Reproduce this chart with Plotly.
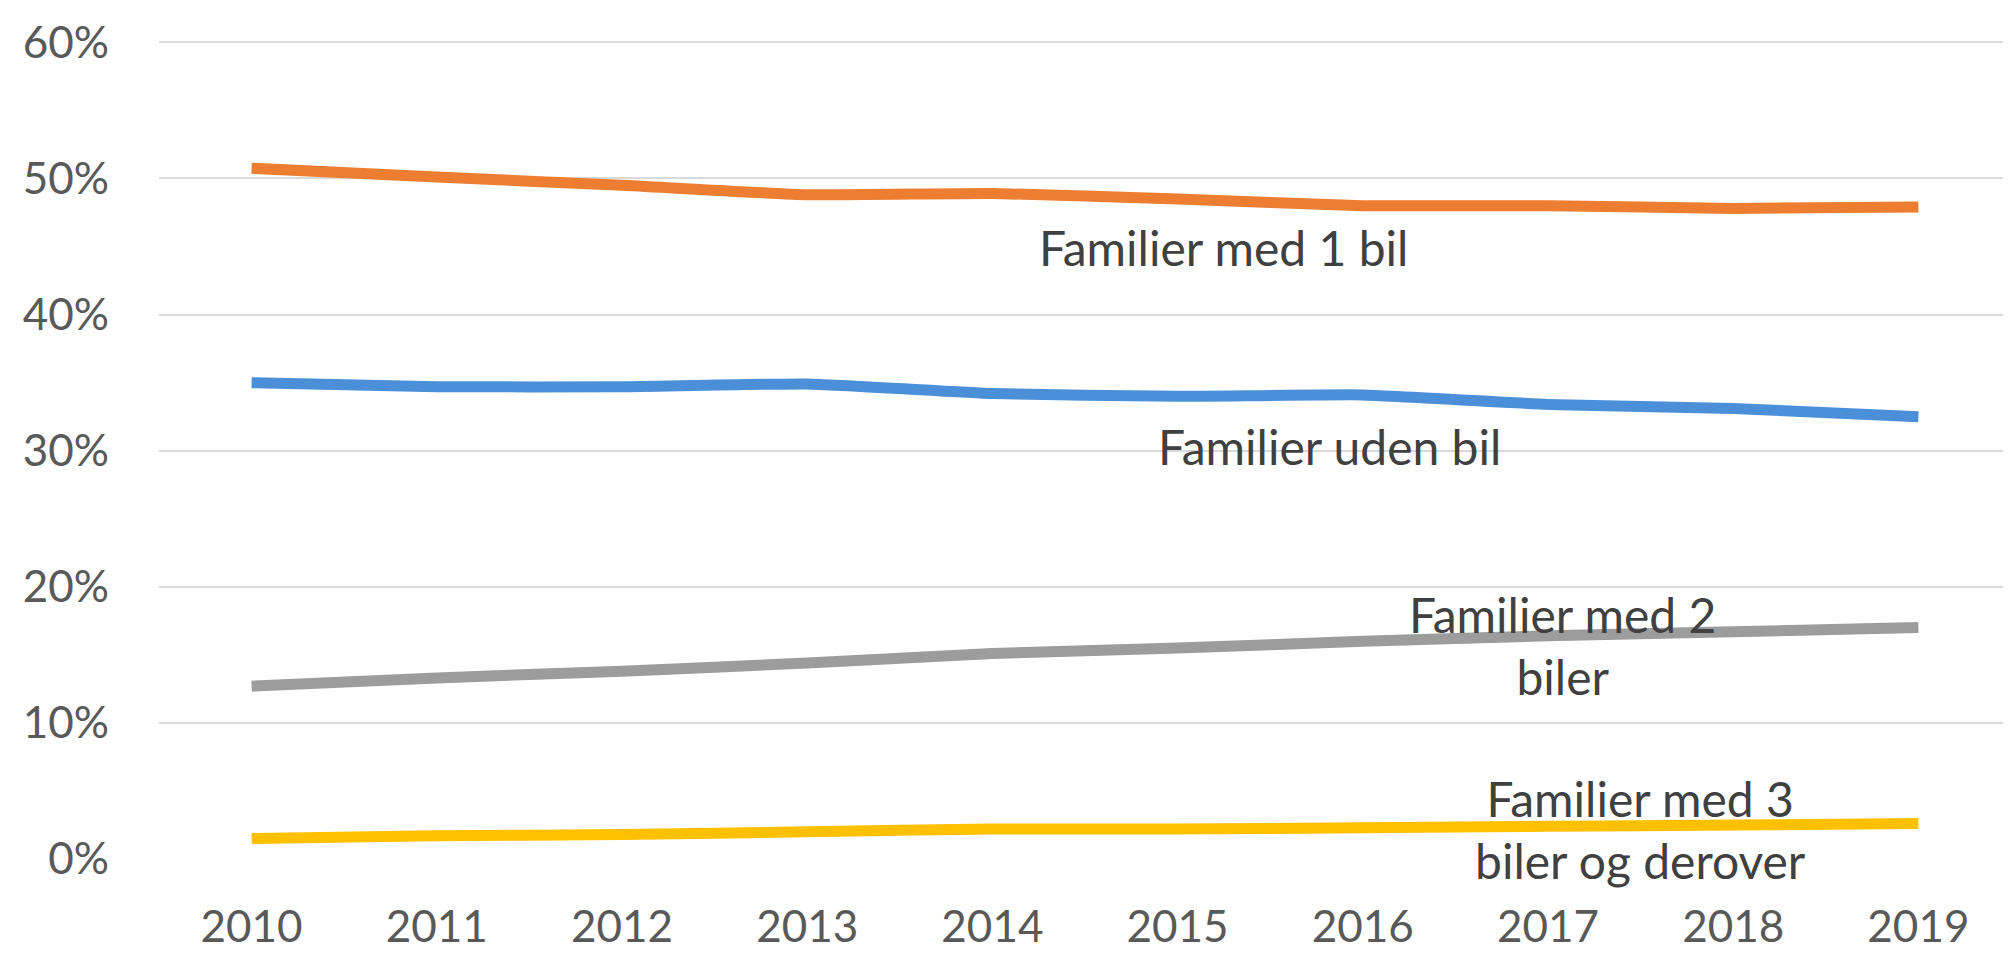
import plotly.graph_objects as go

years = [2010, 2011, 2012, 2013, 2014, 2015, 2016, 2017, 2018, 2019]
med_1_bil = [50.75, 50.1, 49.5, 48.8, 48.9, 48.5, 48.0, 48.0, 47.8, 47.9]
uden_bil = [35.0, 34.7, 34.7, 34.9, 34.2, 34.0, 34.1, 33.4, 33.1, 32.5]
med_2_biler = [12.7, 13.3, 13.8, 14.4, 15.1, 15.5, 16.0, 16.4, 16.7, 17.0]
med_3_biler = [1.5, 1.7, 1.8, 2.0, 2.2, 2.2, 2.3, 2.4, 2.5, 2.6]

y_ticks = [0, 10, 20, 30, 40, 50, 60]
y_tick_labels = ["0%", "10%", "20%", "30%", "40%", "50%", "60%"]

series = [
    ("Familier med 1 bil", med_1_bil, "#ED7D31"),
    ("Familier uden bil", uden_bil, "#4A8FD8"),
    ("Familier med 2 biler", med_2_biler, "#9C9C9C"),
    ("Familier med 3 biler og derover", med_3_biler, "#FFC000"),
]

labels = [
    ("Familier med 1 bil", 2015.25, 44.9),
    ("Familier uden bil", 2015.82, 30.3),
    ("Familier med 2<br>biler", 2017.08, 15.7),
    ("Familier med 3<br>biler og derover", 2017.5, 2.2),
]

fig = go.Figure()
for name, vals, col in series:
    fig.add_trace(go.Scatter(x=years, y=vals, mode="lines", name=name,
                             line=dict(color=col, width=11, shape="spline", smoothing=0.4)))

for text, x, y in labels:
    fig.add_annotation(x=x, y=y, text=text, showarrow=False,
                       font=dict(family="Lato", size=48, color="#404040"),
                       align="center")

fig.update_layout(
    width=2011, height=966,
    margin=dict(l=151, r=8, t=33, b=115),
    paper_bgcolor="white", plot_bgcolor="white",
    showlegend=False,
    font=dict(family="Lato", size=44, color="#595959"),
)
fig.update_xaxes(range=[2009.5, 2019.5], tickvals=years, showgrid=False,
                 zeroline=False, showline=False, ticklabelstandoff=38,
                 tickfont=dict(family="Lato", size=44, color="#595959"))
fig.update_yaxes(range=[0, 60.1], tickvals=y_ticks, ticktext=y_tick_labels,
                 showgrid=True, gridcolor="#D9D9D9", gridwidth=2,
                 zeroline=False, showline=False, ticklabelstandoff=49,
                 tickfont=dict(family="Lato", size=44, color="#595959"))

fig.write_html("out.html")
